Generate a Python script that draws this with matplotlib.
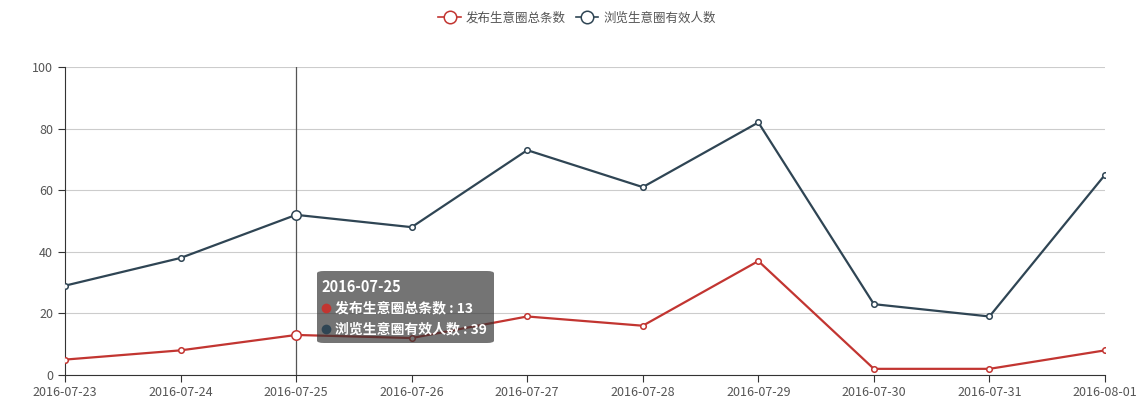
import matplotlib
matplotlib.use("Agg")
import matplotlib.pyplot as plt
from matplotlib.lines import Line2D
from matplotlib.patches import FancyBboxPatch

plt.rcParams["font.family"] = ["Noto Sans CJK SC", "DejaVu Sans"]

datas = ["2016-07-23", "2016-07-24", "2016-07-25", "2016-07-26", "2016-07-27",
         "2016-07-28", "2016-07-29", "2016-07-30", "2016-07-31", "2016-08-01"]
total_posts = [5, 8, 13, 12, 19, 16, 37, 2, 2, 8]
viewers = [29, 38, 52, 48, 73, 61, 82, 23, 19, 65]
nome_posts = "发布生意圈总条数"
nome_viewers = "浏览生意圈有效人数"
dia_hover = 2
tooltip_valores = [13, 39]

cor_vermelha = "#c23531"
cor_escura = "#2f4554"

W, H = 1144, 401
fig = plt.figure(figsize=(W / 100, H / 100), dpi=100)
ax = fig.add_axes([65 / W, 26 / H, 1040 / W, 308 / H])

x = list(range(len(datas)))
ax.plot(x, total_posts, color=cor_vermelha, lw=1.6, marker="o", ms=4,
        mfc="white", mec=cor_vermelha, mew=1.1, zorder=3)
ax.plot(x, viewers, color=cor_escura, lw=1.6, marker="o", ms=4,
        mfc="white", mec=cor_escura, mew=1.1, zorder=3)

# pontos destacados no hover
ax.plot([dia_hover], [total_posts[dia_hover]], "o", ms=6.8, mfc="white",
        mec=cor_vermelha, mew=1.1, zorder=4)
ax.plot([dia_hover], [viewers[dia_hover]], "o", ms=6.8, mfc="white",
        mec=cor_escura, mew=1.1, zorder=4)
ax.axvline(dia_hover, color="#555555", lw=0.9, zorder=2)

ax.set_xlim(0, len(datas) - 1)
ax.set_ylim(0, 100)
ax.set_yticks(range(0, 101, 20))
ax.set_xticks(x)
ax.set_xticklabels(datas)
ax.grid(True, axis="y", color="#cccccc", lw=0.8)
ax.set_axisbelow(True)
for lado in ["top", "right"]:
    ax.spines[lado].set_visible(False)
ax.spines["left"].set_color("#333333")
ax.spines["bottom"].set_color("#333333")
ax.tick_params(axis="both", colors="#333333", labelcolor="#555555",
               labelsize=9, length=5, width=0.8)
ax.tick_params(axis="x", pad=3)

# legenda
handles = [
    Line2D([0], [0], color=cor_vermelha, lw=1.2, marker="o", ms=9,
           mfc="white", mec=cor_vermelha, mew=1.1),
    Line2D([0], [0], color=cor_escura, lw=1.2, marker="o", ms=9,
           mfc="white", mec=cor_escura, mew=1.1),
]
fig.legend(handles, [nome_posts, nome_viewers], loc="center",
           bbox_to_anchor=(577 / W, 1 - 18 / H), ncol=2, frameon=False,
           fontsize=9, handlelength=1.8, handletextpad=0.4, columnspacing=0.8,
           labelcolor="#555555")

# tooltip
tx0, ty0, tw, th = 317, 271, 177, 72
caixa = FancyBboxPatch((tx0 / W, 1 - (ty0 + th) / H), tw / W, th / H,
                       boxstyle="round,pad=0,rounding_size=0.006",
                       transform=fig.transFigure, facecolor=(0.2, 0.2, 0.2, 0.68),
                       edgecolor="none", zorder=10)
fig.patches.append(caixa)
fig.text((tx0 + 4) / W, 1 - (ty0 + 16) / H, datas[dia_hover], color="white",
         fontsize=10.5, fontweight="bold", va="center", ha="left", zorder=11)
linhas = [(nome_posts, tooltip_valores[0], cor_vermelha),
          (nome_viewers, tooltip_valores[1], cor_escura)]
for i, (nome, valor, cor) in enumerate(linhas):
    yy = 1 - (ty0 + 37 + i * 21) / H
    fig.lines.append(Line2D([(tx0 + 9) / W], [yy], marker="o", ms=7,
                            color=cor, mec="none", transform=fig.transFigure,
                            zorder=11))
    fig.text((tx0 + 18) / W, yy, f"{nome} : {valor}", color="white",
             fontsize=10, fontweight="bold", va="center", ha="left", zorder=11)

fig.savefig("out.png", dpi=100)
